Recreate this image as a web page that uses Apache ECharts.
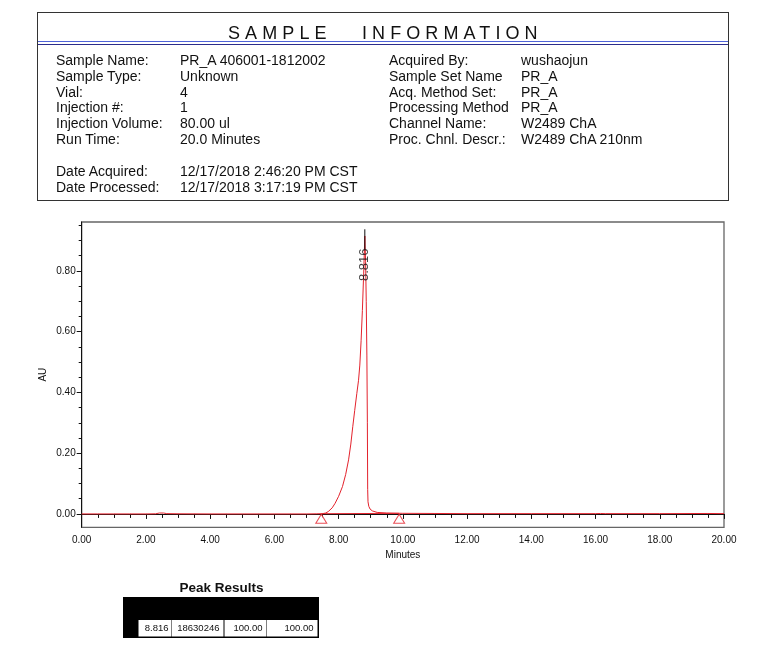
<!DOCTYPE html>
<html>
<head>
<meta charset="utf-8">
<script src="https://cdn.jsdelivr.net/npm/echarts@6/dist/echarts.min.js"></script>
<style>
  html, body { margin: 0; padding: 0; background: #fff; }
  #wrap { position: relative; width: 769px; height: 672px; }
  #chart { position: absolute; left: 0; top: 0; width: 769px; height: 672px; }
  #info { position: absolute; left: 37px; top: 12px; width: 690px; height: 187px;
          border: 1px solid #333; box-sizing: content-box; pointer-events: none;
          font-family: "Liberation Sans", Arial, sans-serif; color: #111; }
  #title { position: absolute; left: 0; top: 9px; width: 100%; text-align: left;
           font-size: 18px; letter-spacing: 5.1px; white-space: pre; line-height: 22px; }
  .ln { position: absolute; left: 0; width: 100%; height: 0; }
  .t { position: absolute; font-size: 14px; line-height: 16px; white-space: pre; }
</style>
</head>
<body>
<div id="wrap">
  <div id="chart"></div>
  <div id="info"></div>
</div>
<script>
// ---------------- data ----------------
const infoTitle = "SAMPLE   INFORMATION";
const leftLabels  = ["Sample Name:", "Sample Type:", "Vial:", "Injection #:", "Injection Volume:", "Run Time:", "", "Date Acquired:", "Date Processed:"];
const leftValues  = ["PR_A 406001-1812002", "Unknown", "4", "1", "80.00 ul", "20.0 Minutes", "", "12/17/2018 2:46:20 PM CST", "12/17/2018 3:17:19 PM CST"];
const rightLabels = ["Acquired By:", "Sample Set Name", "Acq. Method Set:", "Processing Method", "Channel Name:", "Proc. Chnl. Descr.:"];
const rightValues = ["wushaojun", "PR_A", "PR_A", "PR_A", "W2489 ChA", "W2489 ChA 210nm"];

// chromatogram (minutes, AU)
const times = [0, 0.5, 1, 1.5, 2, 2.3, 2.42, 2.48, 2.55, 2.65, 3, 4, 5, 6, 7, 7.3, 7.5, 7.6, 7.68, 7.8, 7.89, 8.0, 8.12, 8.22, 8.31, 8.38, 8.44, 8.5, 8.567, 8.62, 8.66, 8.70, 8.74, 8.78, 8.816, 8.84, 8.86, 8.88, 8.895, 8.905, 8.915, 8.94, 8.98, 9.05, 9.2, 9.5, 10, 11, 12, 14, 16, 16.15, 16.3, 18, 19.5, 20];
const absorb = [0, 0, 0, 0, 0, 0.0005, 0.003, 0.009, 0.003, 0.001, 0.0005, 0, 0, 0, 0, 0.0005, 0.001, 0.003, 0.008, 0.02, 0.035, 0.058, 0.09, 0.13, 0.178, 0.23, 0.287, 0.34, 0.397, 0.44, 0.49, 0.57, 0.67, 0.79, 0.915, 0.83, 0.70, 0.52, 0.30, 0.08, 0.04, 0.025, 0.016, 0.010, 0.005, 0.003, 0.002, 0.0015, 0.001, 0.001, 0.001, 0.0015, 0.001, 0.001, 0.0015, 0.001];

// integration baseline and markers
const baseTimes = [7.48, 9.88];
const baseAU = [0.0008, 0.0018];
const markTimes = [7.46, 9.885];
const markAU = [-0.016, -0.016];

// peak label
const peakRT = 8.816;
const peakLabelAU = 0.82;
const peakTickAU = [0.937, 0.87];

// axes
const xMin = 0, xMax = 20, xStep = 2;
const yMin = -0.044, yMax = 0.961;
const yMajor = [0, 0.2, 0.4, 0.6, 0.8];
const yMinor = [0.05, 0.1, 0.15, 0.25, 0.3, 0.35, 0.45, 0.5, 0.55, 0.65, 0.7, 0.75, 0.85, 0.9, 0.95];

// peak results table
const peakTableTitle = "Peak Results";
const peakRow = ["8.816", "18630246", "100.00", "100.00"];

// ---------------- info box (HTML text) ----------------
const info = document.getElementById('info');
function addText(txt, x, y) {
  const d = document.createElement('div');
  d.className = 't';
  d.textContent = txt;
  d.style.left = (x - 38) + 'px';
  d.style.top = (y - 13 - 8) + 'px';
  info.appendChild(d);
}
const title = document.createElement('div');
title.id = 'title';
title.textContent = infoTitle;
title.style.paddingLeft = (228 - 38) + 'px';
info.appendChild(title);
const l1 = document.createElement('div'); l1.className = 'ln';
l1.style.top = '28.3px'; l1.style.borderTop = '1.2px solid #4f63d8';
info.appendChild(l1);
const l2 = document.createElement('div'); l2.className = 'ln';
l2.style.top = '30.5px'; l2.style.borderTop = '1.2px solid #2c2c8c';
info.appendChild(l2);
const rowY = [60, 76, 91.5, 107, 123, 139, 155, 171, 187];
leftLabels.forEach((s, i) => { if (s) addText(s, 56, rowY[i]); });
leftValues.forEach((s, i) => { if (s) addText(s, 180, rowY[i]); });
rightLabels.forEach((s, i) => addText(s, 389, rowY[i]));
rightValues.forEach((s, i) => addText(s, 521, rowY[i]));

// ---------------- chart ----------------
const chart = echarts.init(document.getElementById('chart'), null, { renderer: 'canvas' });
const RED = '#e3222c';
const FONT = '"Liberation Sans", Arial, sans-serif';
const mainData = times.map((t, i) => [t, absorb[i]]);
const baseData = baseTimes.map((t, i) => [t, baseAU[i]]);
const markData = markTimes.map((t, i) => [t, markAU[i]]);

const cellX = [138.5, 171.5, 224.5, 267];
const cellW = [32.5, 52, 42, 50.5];
const cellRight = [168.5, 219.5, 262.5, 313.5];

const graphics = [
  { type: 'text', x: 221.5, y: 588, style: { text: peakTableTitle, font: 'bold 13.5px ' + FONT, fill: '#111', align: 'center', verticalAlign: 'middle' } },
  { type: 'rect', shape: { x: 123, y: 597, width: 196, height: 41 }, style: { fill: '#000' } }
];
peakRow.forEach((v, i) => {
  graphics.push({ type: 'rect', shape: { x: cellX[i], y: 620, width: cellW[i], height: 16.5 }, style: { fill: '#fff' } });
  graphics.push({ type: 'text', x: cellRight[i], y: 628.5, style: { text: v, font: '9.5px ' + FONT, fill: '#111', align: 'right', verticalAlign: 'middle' } });
});

chart.setOption({
  animation: false,
  backgroundColor: '#fff',
  textStyle: { fontFamily: FONT },
  grid: { left: 81.7, top: 222, right: 45, bottom: 144.7, show: true, borderColor: '#666', borderWidth: 1.3, backgroundColor: 'transparent' },
  xAxis: {
    type: 'value', min: xMin, max: xMax, interval: xStep,
    name: 'Minutes', nameLocation: 'middle', nameGap: 23,
    nameTextStyle: { fontSize: 10, color: '#111', fontFamily: FONT },
    axisLine: { show: true, lineStyle: { color: '#111', width: 1 } },
    axisTick: { show: true, length: 5, lineStyle: { color: '#111' } },
    minorTick: { show: true, splitNumber: 4, length: 4, lineStyle: { color: '#111' } },
    axisLabel: { fontSize: 10, color: '#111', margin: 8, formatter: v => v.toFixed(2), fontFamily: FONT },
    splitLine: { show: false }
  },
  yAxis: [
    {
      type: 'value', min: yMin, max: yMax,
      name: 'AU', nameLocation: 'middle', nameGap: 33, nameRotate: 90, nameMoveOverlap: false,
      nameTextStyle: { fontSize: 10, color: '#111', fontFamily: FONT },
      axisLine: { show: true, lineStyle: { color: '#111', width: 1 } },
      axisTick: { show: true, length: 5, customValues: yMajor, lineStyle: { color: '#111' } },
      axisLabel: { fontSize: 10, color: '#111', margin: 6, customValues: yMajor, formatter: v => v.toFixed(2), fontFamily: FONT },
      splitLine: { show: false }
    },
    {
      type: 'value', min: yMin, max: yMax, position: 'left',
      axisLine: { show: false },
      axisTick: { show: true, length: 3, customValues: yMinor, lineStyle: { color: '#111' } },
      axisLabel: { show: false, customValues: yMinor },
      splitLine: { show: false }
    }
  ],
  series: [
    { type: 'line', data: mainData, showSymbol: false, symbol: 'none', lineStyle: { color: RED, width: 1 }, z: 3 },
    { type: 'line', data: baseData, showSymbol: false, symbol: 'none', lineStyle: { color: RED, width: 1 }, z: 3 },
    { type: 'scatter', data: markData, symbol: 'triangle', symbolSize: [11, 9],
      itemStyle: { color: '#fff', borderColor: RED, borderWidth: 1 }, z: 4 },
    { type: 'line', data: peakTickAU.map(a => [peakRT, a]), showSymbol: false, symbol: 'none', lineStyle: { color: '#111', width: 1 }, z: 5 },
    { type: 'scatter', data: [[peakRT, peakLabelAU]], symbolSize: 1, itemStyle: { color: 'rgba(0,0,0,0)' },
      label: { show: true, position: 'inside', rotate: 90, formatter: () => peakRow[0], fontSize: 13, color: '#111', fontFamily: FONT }, z: 6 }
  ],
  graphic: graphics
});
</script>
</body>
</html>
